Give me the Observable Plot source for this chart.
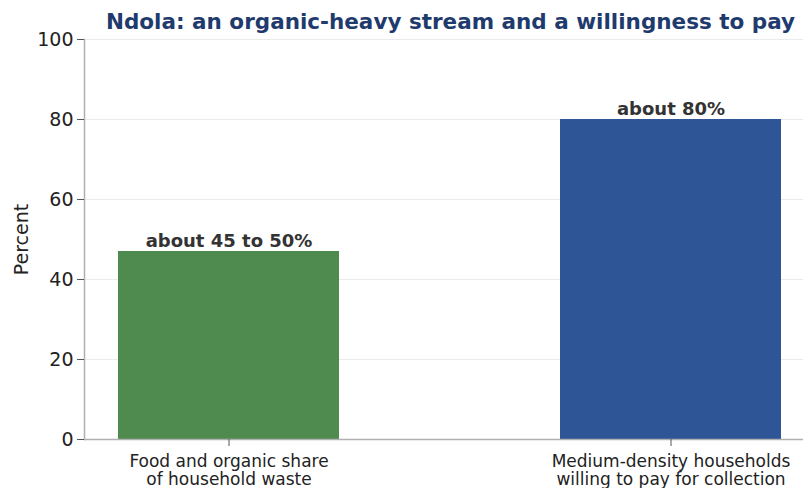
<!DOCTYPE html>
<html>
<head>
<meta charset="utf-8">
<script src="https://cdn.jsdelivr.net/npm/d3@7"></script>
<script src="https://cdn.jsdelivr.net/npm/@observablehq/plot@0.6"></script>
<style>
  html, body { margin: 0; padding: 0; background: #fff; }
  #wrap { position: relative; width: 803px; height: 488px; font-family: "DejaVu Sans", sans-serif; overflow: hidden; background: #fff; }
  #title { position: absolute; top: 0; left: 0; width: 803px; box-sizing: border-box; padding-left: 98px; text-align: center;
           font-weight: bold; font-size: 21.5px; line-height: 44px; color: #1f3b6e; white-space: nowrap; z-index: 2; }
  #chart { position: absolute; top: 0; left: 0; z-index: 1; }
</style>
</head>
<body>
<div id="wrap">
  <div id="title">Ndola: an organic-heavy stream and a willingness to pay</div>
  <div id="chart"></div>
</div>
<script>
const categories = ["Food and organic share\nof household waste", "Medium-density households\nwilling to pay for collection"];
const values = [47, 80];
const valueLabels = ["about 45 to 50%", "about 80%"];
const barColors = ["#4f8a4f", "#2e5596"];
const yTicks = [0, 20, 40, 60, 80, 100];
const yLabel = "Percent";

const data = categories.map((c, i) => ({category: c, value: values[i], label: valueLabels[i], color: barColors[i]}));

const chart = Plot.plot({
  width: 803,
  height: 488,
  marginTop: 39,
  marginBottom: 49,
  marginLeft: 84,
  marginRight: 0,
  style: {fontFamily: "DejaVu Sans, sans-serif", fontSize: "16px", color: "#222", background: "transparent", overflow: "visible"},
  x: {type: "band", domain: categories, range: [84, 814], paddingInner: 0.5, paddingOuter: 0.074, label: null},
  y: {domain: [0, 100], label: null},
  marks: [
    Plot.gridY(yTicks, {stroke: "#ebebeb", strokeOpacity: 1}),
    Plot.barY(data, {x: "category", y: "value", fill: "color"}),
    Plot.text(data, {x: "category", y: "value", text: "label", dy: -5, lineAnchor: "bottom", fontWeight: "bold", fontSize: 18, fill: "#333"}),
    Plot.ruleY([0], {stroke: "#b0b0b0", strokeWidth: 1.5}),
    Plot.frame({anchor: "left", stroke: "#b0b0b0", strokeWidth: 1.5}),
    Plot.axisY({ticks: yTicks, tickSize: 7, tickPadding: 4, stroke: "#555", fill: "#222", fontSize: 19,
                label: yLabel, labelAnchor: "center", labelArrow: "none", labelOffset: 70}),
    Plot.axisX({tickSize: 7, tickPadding: 7, stroke: "#555", fill: "#222", fontSize: 17, label: null, lineHeight: 1.08})
  ]
});
document.getElementById("chart").appendChild(chart);
</script>
</body>
</html>
